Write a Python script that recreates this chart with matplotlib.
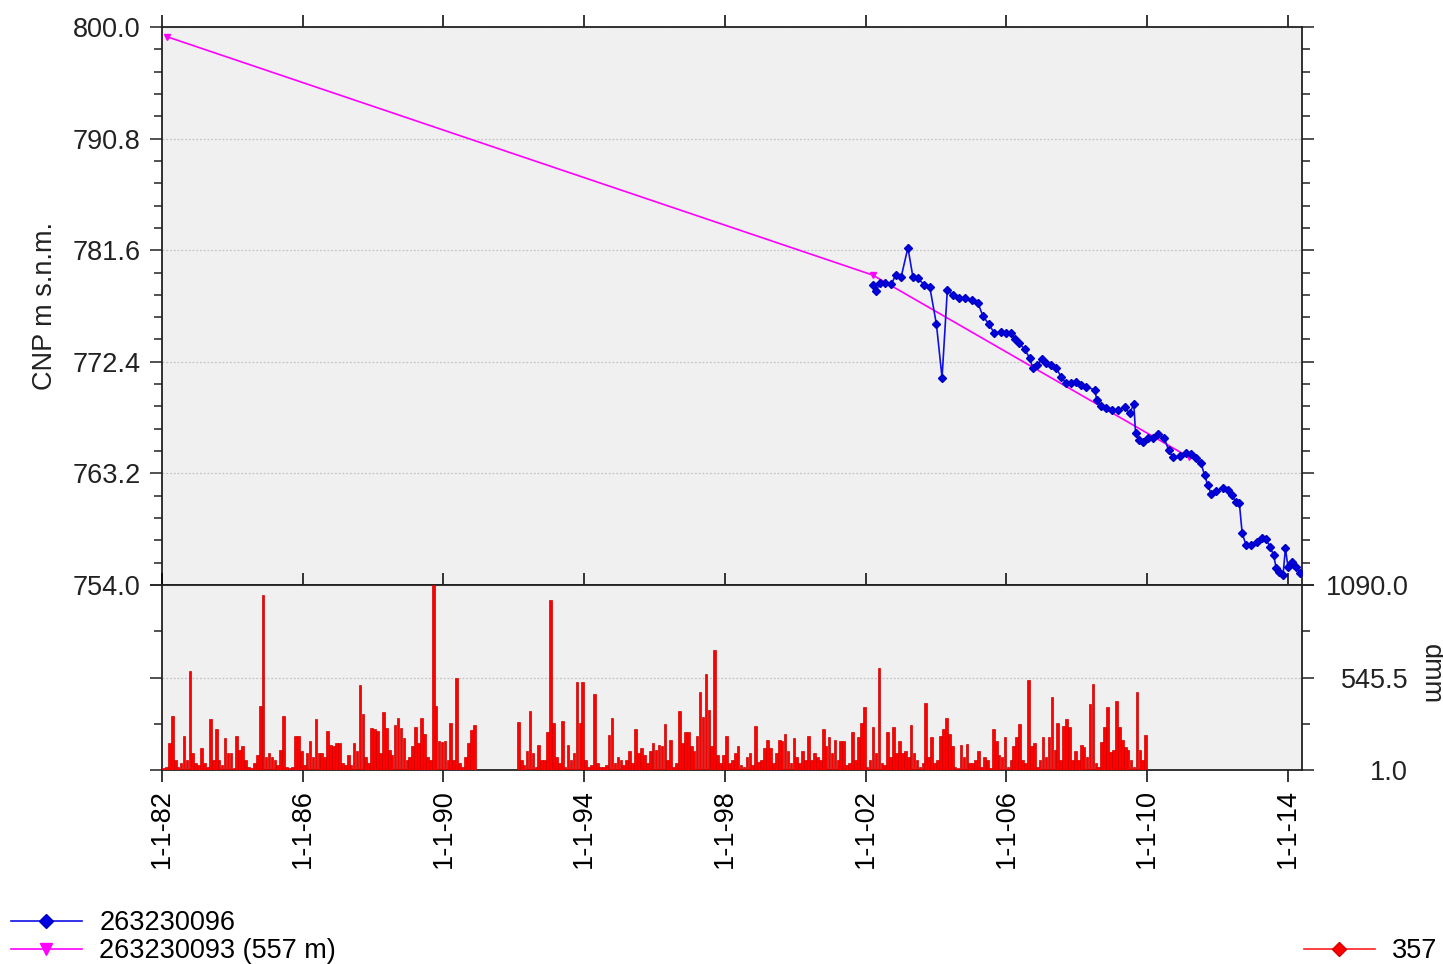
import numpy as np
import matplotlib
matplotlib.use("Agg")
import matplotlib.pyplot as plt
from matplotlib.ticker import AutoMinorLocator, FixedLocator, FuncFormatter
from matplotlib.lines import Line2D

plt.rcParams['font.family'] = ['Liberation Sans', 'DejaVu Sans']

# Piezometer 263230096 (decimal year, m s.n.m.)
blue_t = [2002.21, 2002.30, 2002.40, 2002.54, 2002.73, 2002.85, 2003.01, 2003.20, 2003.34, 2003.49,
          2003.66, 2003.82, 2004.01, 2004.17, 2004.32, 2004.48, 2004.65, 2004.81, 2005.03, 2005.19,
          2005.33, 2005.50, 2005.66, 2005.85, 2005.99, 2006.14, 2006.23, 2006.37, 2006.52, 2006.66,
          2006.75, 2006.87, 2007.01, 2007.13, 2007.27, 2007.41, 2007.56, 2007.68, 2007.84, 2007.98,
          2008.13, 2008.27, 2008.51, 2008.57, 2008.69, 2008.84, 2009.01, 2009.17, 2009.36, 2009.50,
          2009.62, 2009.67, 2009.78, 2009.89, 2010.02, 2010.16, 2010.30, 2010.49, 2010.61, 2010.73,
          2010.92, 2011.10, 2011.25, 2011.39, 2011.53, 2011.63, 2011.72, 2011.82, 2011.96, 2012.15,
          2012.29, 2012.41, 2012.51, 2012.62, 2012.70, 2012.81, 2012.95, 2013.11, 2013.26, 2013.38,
          2013.49, 2013.59, 2013.67, 2013.76, 2013.86, 2013.93, 2014.00, 2014.12, 2014.23, 2014.33]
blue_v = [778.73, 778.24, 778.87, 778.87, 778.79, 779.56, 779.42, 781.81, 779.42, 779.28,
          778.73, 778.59, 775.49, 771.09, 778.32, 777.91, 777.68, 777.63, 777.49, 777.22,
          776.20, 775.49, 774.75, 774.88, 774.75, 774.75, 774.25, 773.92, 773.43, 772.69,
          771.86, 772.13, 772.60, 772.27, 772.13, 771.86, 771.17, 770.68, 770.63, 770.76,
          770.49, 770.35, 770.07, 769.25, 768.75, 768.57, 768.43, 768.43, 768.65, 768.15,
          768.92, 766.50, 765.95, 765.81, 766.09, 766.09, 766.45, 766.09, 765.12, 764.52,
          764.63, 764.90, 764.79, 764.44, 764.03, 763.07, 762.24, 761.50, 761.77, 761.97,
          761.83, 761.42, 760.87, 760.73, 758.26, 757.30, 757.30, 757.57, 757.85, 757.77,
          757.16, 756.47, 755.38, 755.10, 754.82, 757.02, 755.51, 755.92, 755.51, 755.02]

# Piezometer 263230093 (557 m)
mag_t = [1982.14, 2002.20, 2011.18]
mag_v = [799.2, 779.55, 764.55]

# Rain gauge 357, monthly totals (dmm); 1991 missing
rain_years = [1982, 1983, 1984, 1985, 1986, 1987, 1988, 1989, 1990,
              1992, 1993, 1994, 1995, 1996, 1997, 1998, 1999, 2000,
              2001, 2002, 2003, 2004, 2005, 2006, 2007, 2008, 2009]
rain_monthly = [
    [10, 20, 160, 320, 60, 20, 40, 200, 60, 585, 100, 40],
    [30, 130, 40, 20, 300, 60, 240, 60, 30, 190, 100, 100],
    [10, 200, 120, 140, 60, 20, 10, 40, 90, 380, 1030, 80],
    [100, 80, 60, 30, 120, 320, 20, 10, 20, 200, 200, 110],
    [30, 100, 170, 80, 300, 100, 100, 80, 230, 150, 140, 160],
    [160, 40, 30, 90, 30, 160, 110, 500, 330, 80, 40, 250],
    [240, 230, 100, 340, 250, 120, 90, 265, 310, 250, 190, 60],
    [80, 140, 255, 160, 310, 215, 80, 60, 1089, 380, 170, 165],
    [170, 60, 275, 60, 540, 40, 20, 80, 160, 235, 265, 0],
    [0, 285, 60, 30, 110, 350, 100, 20, 150, 60, 60, 226],
    [1000, 275, 80, 40, 290, 20, 150, 60, 100, 520, 275, 520],
    [60, 20, 30, 450, 40, 20, 20, 30, 206, 310, 40, 80],
    [60, 30, 60, 110, 40, 241, 100, 130, 90, 40, 110, 160],
    [120, 150, 143, 270, 60, 177, 20, 40, 347, 160, 226, 226],
    [140, 110, 200, 461, 314, 569, 353, 140, 706, 90, 40, 90],
    [200, 40, 60, 100, 143, 30, 20, 80, 100, 30, 261, 50],
    [60, 130, 180, 130, 40, 100, 180, 170, 210, 110, 40, 192],
    [80, 40, 110, 60, 200, 60, 100, 80, 60, 245, 140, 196],
    [100, 175, 60, 173, 173, 30, 40, 222, 60, 196, 279, 373],
    [20, 60, 255, 100, 604, 40, 30, 226, 80, 255, 100, 170],
    [100, 110, 80, 265, 100, 60, 20, 40, 396, 80, 196, 40],
    [60, 200, 245, 310, 215, 140, 20, 10, 150, 80, 153, 40],
    [40, 60, 110, 20, 80, 60, 10, 241, 170, 90, 80, 196],
    [20, 60, 140, 196, 270, 60, 40, 530, 140, 160, 20, 60],
    [196, 80, 196, 431, 120, 279, 60, 261, 304, 255, 60, 110],
    [60, 147, 137, 80, 392, 506, 40, 20, 167, 255, 373, 108],
    [118, 408, 255, 177, 137, 118, 60, 20, 461, 118, 60, 206],
]

x_ticks = [1982, 1986, 1990, 1994, 1998, 2002, 2006, 2010, 2014]
x_min, x_max = 1982.0, 2014.4
top_ticks = [754.0, 763.2, 772.4, 781.6, 790.8, 800.0]
rain_ticks = [1.0, 545.5, 1090.0]

BG = '#f0f0f0'
GRID = '#c4c4c4'
FS = 19.5

W, H = 1443, 964
fig = plt.figure(figsize=(W / 100, H / 100), dpi=100)
left, right = 162 / W, 1302 / W
ax1 = fig.add_axes([left, 1 - 585 / H, right - left, (585 - 27) / H])
ax2 = fig.add_axes([left, 1 - 770 / H, right - left, (770 - 585) / H])

for ax in (ax1, ax2):
    ax.set_facecolor(BG)
    ax.set_xlim(x_min, x_max)
    ax.xaxis.set_major_locator(FixedLocator(x_ticks))
    for sp in ax.spines.values():
        sp.set_linewidth(1.3)
        sp.set_color('#222222')

# --- top panel: groundwater levels
ax1.plot(mag_t, mag_v, color='#ff00ff', lw=1.2, marker='v', ms=5, zorder=3)
ax1.plot(blue_t, blue_v, color='#1010e6', lw=1.2, marker='D', ms=4,
         mec='#0000c0', mfc='#0000e0', zorder=4)
ax1.set_ylim(754, 800)
ax1.yaxis.set_major_locator(FixedLocator(top_ticks))
ax1.yaxis.set_minor_locator(AutoMinorLocator(5))
ax1.yaxis.set_major_formatter(FuncFormatter(lambda v, p: f"{v:.1f}"))
ax1.grid(axis='y', which='major', color=GRID, ls=(0, (1.5, 1.5)), lw=0.9)
ax1.tick_params(axis='y', which='both', left=True, right=True, direction='out',
                labelsize=FS, width=1.1, pad=7, colors='#222222')
ax1.tick_params(axis='y', which='major', length=8.5)
ax1.tick_params(axis='y', which='minor', length=6)
ax1.tick_params(axis='x', bottom=False, top=True, labelbottom=False, labeltop=False,
                direction='out', length=8.5, width=1.1)

# --- bottom panel: rainfall
bx, bh = [], []
for yr, vals in zip(rain_years, rain_monthly):
    for m, v in enumerate(vals):
        if v > 0:
            bx.append(yr + (m + 0.5) / 12)
            bh.append(v)
ax2.bar(bx, bh, width=0.075, color='#ff0000', edgecolor='#d00000', lw=0.5, zorder=3)
ax2.set_ylim(1, 1090)
ax2.yaxis.set_major_locator(FixedLocator(rain_ticks))
ax2.yaxis.set_minor_locator(AutoMinorLocator(2))
ax2.yaxis.set_major_formatter(FuncFormatter(lambda v, p: f"{v:.1f}"))
ax2.grid(axis='y', which='major', color=GRID, ls=(0, (1.5, 1.5)), lw=0.9)
ax2.yaxis.tick_right()
ax2.tick_params(axis='y', which='both', left=True, right=True, direction='out',
                labelleft=False, labelright=True, width=1.1, colors='#222222')
ax2.tick_params(axis='y', which='major', length=8.5, labelsize=FS, pad=68)
ax2.tick_params(axis='y', which='minor', length=6)
for lab in ax2.get_yticklabels():
    lab.set_horizontalalignment('right')
ax2.tick_params(axis='x', bottom=True, top=True, direction='out', length=8.5,
                width=1.1, labelsize=FS, pad=5, labelrotation=90)
ax2.xaxis.set_major_formatter(FuncFormatter(lambda v, p: f"1-1-{int(round(v)) % 100:02d}"))

fig.text(45 / W, 1 - 306 / H, 'CNP m s.n.m.', rotation=90, ha='center', va='center',
         fontsize=FS, color='#222222')
fig.text(1431 / W, 1 - 674 / H, 'dmm', rotation=-90, ha='center', va='center',
         fontsize=FS, color='#222222')

# legends below the plot
h_blue = Line2D([], [], color='#1010e6', lw=1.2, marker='D', ms=7, mfc='#0000e0', mec='#0000c0')
h_mag = Line2D([], [], color='#ff00ff', lw=1.2, marker='v', ms=9)
h_red = Line2D([], [], color='#ff2020', lw=1.2, marker='D', ms=7, mfc='#ff0000', mec='#d00000')
fig.legend([h_blue, h_mag], ['263230096', '263230093 (557 m)'], loc='lower left',
           bbox_to_anchor=(0.004, -0.006), frameon=False, fontsize=FS, handlelength=2.6,
           handletextpad=0.65, labelspacing=0.08, borderpad=0.2, borderaxespad=0.0)
fig.legend([h_red], ['357'], loc='lower right', bbox_to_anchor=(1.0, -0.006),
           frameon=False, fontsize=FS, handlelength=2.6, handletextpad=0.65,
           borderpad=0.2, borderaxespad=0.0)

fig.savefig('out.png', dpi=100, facecolor='white')
